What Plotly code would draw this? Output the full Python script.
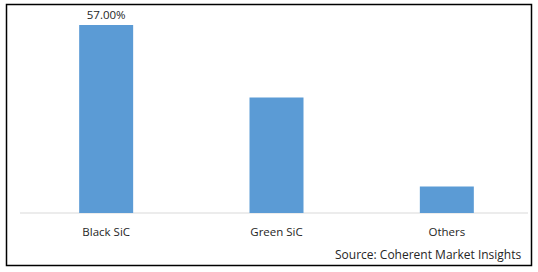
import plotly.graph_objects as go

categories = ["Black SiC", "Green SiC", "Others"]
shares = [57, 35, 8]
bar_labels = ["57.00%", "", ""]
source_text = "Source: Coherent Market Insights"

W, H = 538, 272
L, R, T, B = 21, 6, 15, 59
pw = W - L - R
ph = H - T - B

def px_x(x):
    return (x - L) / pw

def px_y(y):
    return (H - B - y) / ph

font = dict(family="Open Sans, sans-serif", size=11, color="#262626")

fig = go.Figure(go.Bar(
    x=categories, y=shares, text=bar_labels, textposition="outside",
    textfont=dict(family="Open Sans, sans-serif", size=11.5, color="#262626"),
    marker=dict(color="#5b9bd5", line=dict(width=0)),
    cliponaxis=False,
))

fig.update_layout(
    width=W, height=H,
    margin=dict(l=L, r=R, t=T, b=B, pad=0),
    paper_bgcolor="white", plot_bgcolor="white",
    bargap=0.683,
    showlegend=False,
    font=font,
    xaxis=dict(showgrid=False, showline=False, ticks="", zeroline=False,
               ticklabelstandoff=10,
               tickfont=dict(family="Open Sans, sans-serif", size=11.5, color="#262626")),
    yaxis=dict(range=[0, 60], visible=False, showgrid=False, zeroline=False),
    shapes=[
        dict(type="line", xref="paper", yref="paper",
             x0=px_x(20), x1=px_x(528), y0=px_y(213), y1=px_y(213),
             line=dict(color="#d9d9d9", width=1), layer="below"),
        dict(type="rect", xref="paper", yref="paper",
             x0=px_x(6.5), x1=px_x(531.5), y0=px_y(265.5), y1=px_y(4.5),
             line=dict(color="black", width=1.5), fillcolor="rgba(0,0,0,0)"),
    ],
    annotations=[
        dict(text=source_text, xref="paper", yref="paper",
             x=px_x(524), y=px_y(254), xanchor="right", yanchor="middle",
             showarrow=False, font=dict(family="Open Sans, sans-serif", size=12, color="#262626")),
    ],
)

fig.write_html("out.html")
